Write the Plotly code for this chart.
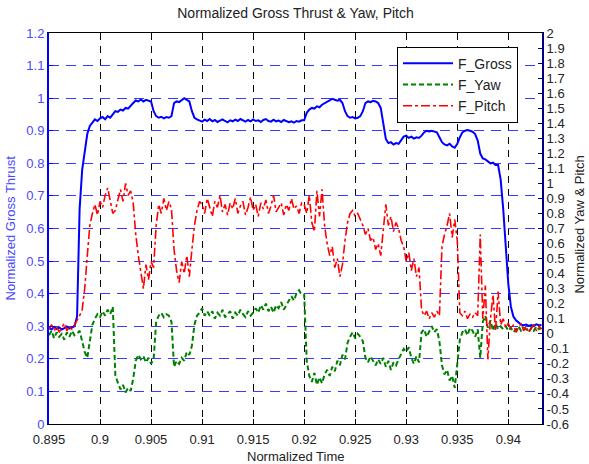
import plotly.graph_objects as go

# ---------------- data ----------------
t_start = 0.895
t_step = 0.00025

gross = [
    0.295, 0.290, 0.298, 0.292, 0.296, 0.290, 0.294, 0.299, 0.293, 0.297, 0.300,
    0.330, 0.660, 0.780, 0.830, 0.890, 0.915, 0.925, 0.935, 0.930, 0.938,
    0.942, 0.935, 0.945, 0.940, 0.950, 0.960, 0.958, 0.965, 0.962, 0.970,
    0.968, 0.975, 0.985, 0.993, 0.990, 0.996, 0.990, 0.995, 0.992, 0.990,
    0.960, 0.945, 0.940, 0.943, 0.938, 0.942, 0.940, 0.945, 0.985, 0.990,
    0.988, 0.995, 1.000, 0.995, 0.990, 0.960, 0.940,
    0.935, 0.932, 0.928, 0.934, 0.930, 0.936, 0.929, 0.933, 0.927, 0.931,
    0.935, 0.930, 0.926, 0.932, 0.929, 0.934, 0.930, 0.936, 0.931, 0.928,
    0.933, 0.929, 0.935, 0.930, 0.932, 0.927, 0.933, 0.936, 0.930, 0.928,
    0.934, 0.929, 0.931, 0.927, 0.933, 0.930, 0.926, 0.929, 0.925, 0.930,
    0.928, 0.932,
    0.932, 0.955, 0.965, 0.970, 0.968, 0.975, 0.972, 0.980, 0.985, 0.990,
    0.993, 0.998, 0.995, 0.992, 0.995, 0.985, 0.960, 0.945, 0.940, 0.942,
    0.938, 0.940, 0.945, 0.960, 0.985, 0.990, 0.988, 0.992, 0.990, 0.985,
    0.970, 0.920, 0.875, 0.862, 0.865, 0.858, 0.862, 0.860, 0.870, 0.882,
    0.885, 0.878, 0.882, 0.876, 0.880, 0.878, 0.885, 0.895, 0.900, 0.898,
    0.900, 0.897, 0.895, 0.880, 0.865, 0.858, 0.855, 0.860, 0.852, 0.848,
    0.860, 0.880, 0.895, 0.900, 0.902, 0.900, 0.897, 0.890, 0.870, 0.830,
    0.815, 0.812, 0.805, 0.800, 0.802, 0.795, 0.795, 0.750, 0.660, 0.550,
    0.430, 0.360, 0.330, 0.318, 0.310, 0.305,
    0.303, 0.305, 0.301, 0.304, 0.302, 0.306, 0.303, 0.304,
]

yaw = [
    -0.01, 0.02, -0.03, 0.01, -0.02, 0.00, -0.04, 0.01, -0.02, 0.02, -0.01,
    0.00, 0.02, -0.06, -0.12, -0.16, -0.04, 0.06, 0.10, 0.13, 0.11,
    0.15, 0.12, 0.16, 0.13, 0.18, -0.28, -0.33, -0.37, -0.34, -0.39,
    -0.36, -0.38, -0.30, -0.18, -0.14, -0.17, -0.15, -0.19, -0.16, -0.20,
    -0.17, 0.08, 0.12, 0.14, 0.11, 0.13, 0.12, 0.08, -0.22, -0.18,
    -0.20, -0.16, -0.18, -0.12, -0.14, -0.08, 0.06, 0.12, 0.14, 0.17, 0.12, 0.15,
    0.12, 0.15, 0.10, 0.14, 0.12, 0.16, 0.11, 0.13, 0.15, 0.10,
    0.14, 0.12, 0.16, 0.13, 0.11, 0.15, 0.12, 0.14,
    0.17, 0.14, 0.19, 0.16, 0.20, 0.15, 0.18, 0.14, 0.19, 0.17, 0.21, 0.16, 0.19,
    0.23, 0.25, 0.22, 0.27, 0.29, 0.26,
    0.26, -0.18, -0.28, -0.32, -0.26, -0.34, -0.29, -0.33, -0.27, -0.24,
    -0.28, -0.22, -0.25, -0.18, -0.21, -0.14, -0.17, -0.06, -0.02, 0.01,
    -0.03, 0.00, -0.02, -0.05, -0.16, -0.19, -0.15, -0.18, -0.21, -0.17,
    -0.20, -0.16, -0.22, -0.18, -0.24, -0.19, -0.21, -0.17, -0.14, -0.10,
    -0.12, -0.09, -0.16, -0.20, -0.15, -0.19, 0.01, 0.03, -0.02, 0.02,
    0.05, 0.01, 0.03, -0.05, -0.21, -0.27, -0.24, -0.31, -0.28, -0.36,
    -0.22, -0.04, 0.01, 0.03, -0.01, 0.04, 0.02, -0.02, 0.03, -0.16,
    0.08, 0.12, 0.04, 0.09, 0.02, 0.07, 0.03, 0.05,
    0.03, 0.05, 0.02, 0.04, 0.01, 0.03, 0.05, 0.02, 0.04, 0.03, 0.01, 0.04,
    0.02, 0.05, 0.03, 0.04,
]

pitch = [
    0.03, 0.06, 0.02, 0.05, 0.01, 0.04, 0.07, 0.02, 0.05, 0.03, 0.06,
    0.08, 0.12, 0.16, 0.30, 0.52, 0.72, 0.80, 0.86, 0.79, 0.88,
    0.84, 0.92, 0.97, 0.88, 0.80, 0.82, 0.90, 0.96, 0.88, 1.00,
    0.92, 0.95, 0.87, 0.66, 0.52, 0.40, 0.30, 0.46, 0.36, 0.48,
    0.44, 0.72, 0.86, 0.80, 0.90, 0.82, 0.88, 0.83, 0.56, 0.42,
    0.34, 0.48, 0.40, 0.52, 0.38, 0.56, 0.72, 0.82, 0.88,
    0.86, 0.80, 0.90, 0.83, 0.78, 0.88, 0.84, 0.92, 0.81, 0.86,
    0.79, 0.87, 0.83, 0.90, 0.80, 0.85, 0.88, 0.79, 0.84, 0.91,
    0.82, 0.86, 0.78, 0.87, 0.83, 0.89, 0.80, 0.85, 0.92, 0.81,
    0.84, 0.87, 0.79, 0.86, 0.82, 0.90, 0.83, 0.85, 0.80, 0.87,
    0.86, 0.80, 0.92, 0.74, 0.68, 0.95, 0.78, 0.96, 0.72, 0.60,
    0.52, 0.58, 0.44, 0.50, 0.38, 0.46, 0.62, 0.74, 0.80, 0.82,
    0.78, 0.80, 0.76, 0.72, 0.66, 0.70, 0.62, 0.64, 0.56, 0.60,
    0.52, 0.70, 0.86, 0.72, 0.78, 0.68, 0.74, 0.70, 0.62, 0.58,
    0.48, 0.54, 0.42, 0.50, 0.38, 0.44, 0.16, 0.12, 0.15, 0.10,
    0.14, 0.11, 0.15, 0.12, 0.58, 0.66, 0.72, 0.80, 0.64, 0.76,
    0.62, 0.14, 0.12, 0.15, 0.10, 0.13, 0.11, 0.14, 0.12, 0.66,
    0.10, 0.32, -0.17, 0.10, 0.26, 0.02, 0.28, 0.06, 0.10, 0.04, 0.07,
    0.03, 0.06, 0.01, 0.04, 0.07, 0.02, 0.05, 0.01, 0.04, 0.06, 0.02, 0.05, 0.03,
]

x_ticks = [0.895, 0.9, 0.905, 0.91, 0.915, 0.92, 0.925, 0.93, 0.935, 0.94]
x_labels = ["0.895", "0.9", "0.905", "0.91", "0.915", "0.92", "0.925", "0.93", "0.935", "0.94"]
y_left_ticks = [0, 0.1, 0.2, 0.3, 0.4, 0.5, 0.6, 0.7, 0.8, 0.9, 1.0, 1.1, 1.2]
y_left_labels = ["0", "0.1", "0.2", "0.3", "0.4", "0.5", "0.6", "0.7", "0.8", "0.9", "1", "1.1", "1.2"]
y_right_ticks = [round(-0.6 + 0.1 * k, 1) for k in range(27)]
y_right_labels = ["%g" % v for v in y_right_ticks]

def times(n):
    return [t_start + k * t_step for k in range(n)]

FONT = "Arial, Liberation Sans, sans-serif"

fig = go.Figure()
fig.add_trace(go.Scatter(x=times(len(gross)), y=gross, name="F_Gross", mode="lines",
                         line=dict(color="#0000ff", width=2), yaxis="y"))
fig.add_trace(go.Scatter(x=times(len(yaw)), y=yaw, name="F_Yaw", mode="lines",
                         line=dict(color="#008000", width=2, dash="5px,3px"), yaxis="y2"))
fig.add_trace(go.Scatter(x=times(len(pitch)), y=pitch, name="F_Pitch", mode="lines",
                         line=dict(color="#ff0000", width=1.6, dash="dashdot"), yaxis="y2"))

fig.update_layout(
    width=589, height=464,
    margin=dict(l=49, r=47, t=33, b=40),
    paper_bgcolor="white", plot_bgcolor="white",
    font=dict(family=FONT, size=13, color="black"),
    title=dict(text="Normalized Gross Thrust & Yaw, Pitch", x=0.5, xref="paper",
               y=1 - 13 / 464, yanchor="middle", font=dict(size=14, color="#222222")),
    showlegend=True,
    legend=dict(x=(397 - 49) / 493, y=0.965, xanchor="left", yanchor="top",
                bgcolor="white", bordercolor="black", borderwidth=1,
                itemwidth=50,
                font=dict(size=14, color="#222222"), tracegroupgap=0),
    xaxis=dict(range=[0.895, 0.9433], tickvals=x_ticks, ticktext=x_labels,
               ticks="inside", ticklen=5, tickcolor="black", mirror="ticks",
               showline=True, linecolor="black", linewidth=1,
               showgrid=True, gridcolor="#000000", gridwidth=1, griddash="7px,6px",
               zeroline=False, ticklabelstandoff=3,
               tickfont=dict(size=13, color="#222222")),
    yaxis=dict(range=[0, 1.2], tickvals=y_left_ticks, ticktext=y_left_labels,
               ticks="inside", ticklen=4, tickcolor="#0000ff",
               showline=True, linecolor="#0000ff", linewidth=2,
               showgrid=True, gridcolor="#3a3aff", gridwidth=1, griddash="10px,7px",
               zeroline=False, tickfont=dict(size=13, color="#4a4aff")),
    yaxis2=dict(range=[-0.6, 2.0], overlaying="y", side="right",
                tickvals=y_right_ticks, ticktext=y_right_labels,
                ticks="inside", ticklen=4, tickcolor="#000080",
                showline=True, linecolor="#000080", linewidth=2,
                showgrid=False, zeroline=False,
                tickfont=dict(size=13, color="#222222")),
    annotations=[
        dict(text="Normalized Time", xref="paper", yref="paper", x=0.5, y=(424 - 456) / 391,
             xanchor="center", yanchor="middle", showarrow=False,
             font=dict(size=13, color="#222222")),
        dict(text="Normalized Gross Thrust", xref="paper", yref="paper",
             x=(10 - 49) / 493, y=0.5, textangle=-90, xanchor="center", yanchor="middle",
             showarrow=False, font=dict(size=13, color="#4a4aff")),
        dict(text="Normalized Yaw & Pitch", xref="paper", yref="paper",
             x=(580 - 49) / 493, y=0.51, textangle=-90, xanchor="center", yanchor="middle",
             showarrow=False, font=dict(size=13, color="#222222")),
    ],
)

fig.write_html("out.html")
